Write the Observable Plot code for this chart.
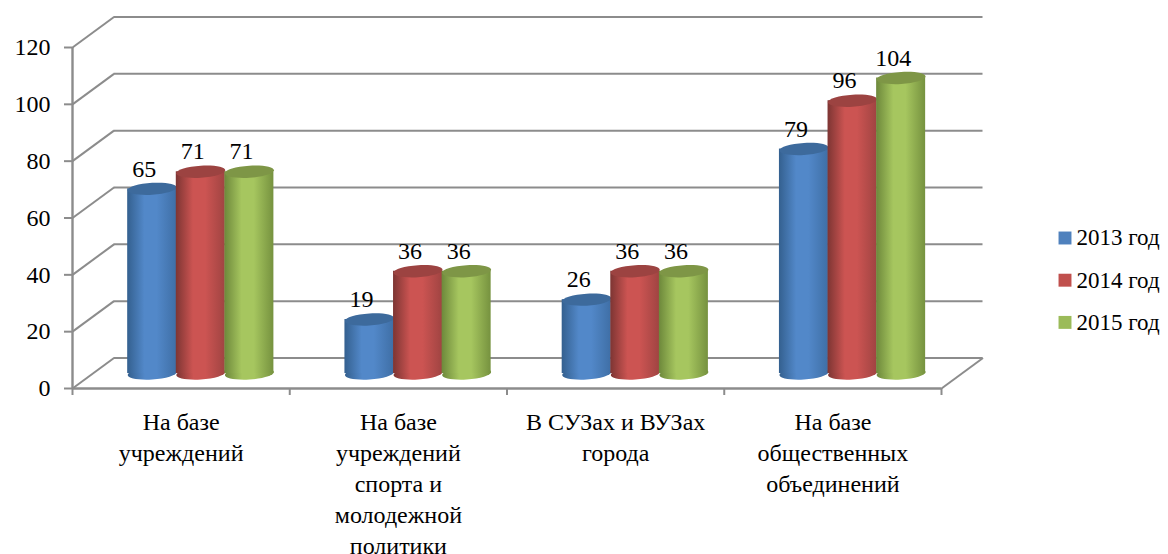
<!DOCTYPE html>
<html><head><meta charset="utf-8">
<script src="https://cdn.jsdelivr.net/npm/d3@7"></script>
<script src="https://cdn.jsdelivr.net/npm/@observablehq/plot@0.6"></script>
<style>html,body{margin:0;padding:0;background:#fff}svg{display:block;overflow:visible}</style>
</head><body><div id="chart"></div>
<script>
const categories = ["На базе\nучреждений","На базе\nучреждений\nспорта и\nмолодежной\nполитики","В СУЗах и ВУЗах\nгорода","На базе\nобщественных\nобъединений"];
const seriesNames = ["2013 год","2014 год","2015 год"];
const values2013 = [65,19,26,79];
const values2014 = [71,36,36,96];
const values2015 = [71,36,36,104];
const yTicks = [0,20,40,60,80,100,120];
const xTicks = [0,1,2,3,4];

const seriesValues = [values2013,values2014,values2015];
const swatch = ["#4f81bd","#c0504d","#9bbb59"];
const caps = ["#3d6a9c","#9c4341","#7e9646"];
const stops = [
  ["#34608f","#5288c9","#5288c9","#3f6fa6"],
  ["#7d3533","#cc5452","#cc5452","#a04442"],
  ["#6d883b","#a6c65f","#a6c65f","#76923f"]];
const grey = "#8c8c8c";

const depthX = 41.5/217.25, depthY = 30.5/2.842;      // wall depth, in data units
const baseY = depthY/2 - 0.1;
const barW = 49/217.25, step = 48.6/217.25, shift = depthX/2 - 0.005;

const rows = seriesValues.flatMap((vals,s)=>vals.map((v,i)=>({s,i,v,
  cx:i+0.5+shift+(s-1)*step})));

const ell = {draw(c){
  const rx=24.5, ry=6, t=-0.06, k=0.5523;
  const P=(x,y)=>[x,y+t*x];
  c.moveTo(...P(-rx,0));
  c.bezierCurveTo(...P(-rx,-k*ry),...P(-k*rx,-ry),...P(0,-ry));
  c.bezierCurveTo(...P(k*rx,-ry),...P(rx,-k*ry),...P(rx,0));
  c.bezierCurveTo(...P(rx,k*ry),...P(k*rx,ry),...P(0,ry));
  c.bezierCurveTo(...P(-k*rx,ry),...P(-rx,k*ry),...P(-rx,0));
  c.closePath();
}};

const FS = 24;
const marks = [
  // back wall gridlines
  Plot.ruleY(yTicks,{y:d=>d,x1:0,x2:4,dx:41.5,dy:-30.5,stroke:grey,strokeWidth:2}),
  // side wall diagonals
  Plot.link(yTicks,{x1:0,y1:d=>d,x2:depthX,y2:d=>d+depthY,stroke:grey,strokeWidth:2}),
  Plot.link([0],{x1:4,y1:0,x2:4+depthX,y2:depthY,stroke:grey,strokeWidth:2}),
  // axes lines
  Plot.ruleX([0],{y1:0,y2:120,stroke:grey,strokeWidth:2.4}),
  Plot.ruleY([0],{x1:0,x2:4,stroke:grey,strokeWidth:2.4}),
  Plot.axisY(yTicks,{anchor:"left",tickSize:8,tickPadding:14,stroke:grey,fill:"#000",strokeWidth:2,fontSize:FS,label:null}),
  Plot.axisX(xTicks,{anchor:"bottom",tickSize:7,tickFormat:()=>"",stroke:grey,strokeWidth:2,label:null})
];
seriesValues.forEach((vals,s)=>{
  const d = rows.filter(r=>r.s===s);
  marks.push(
    Plot.dot(d,{x:"cx",y:()=>baseY,symbol:ell,r:10,fill:`url(#grad${s})`,stroke:"none"}),
    Plot.rect(d,{x1:r=>r.cx-barW/2,x2:r=>r.cx+barW/2,y1:()=>baseY,y2:r=>r.v+baseY,fill:`url(#grad${s})`,inset:0}),
    Plot.dot(d,{x:"cx",y:r=>r.v+baseY,symbol:ell,r:10,fill:caps[s],stroke:"none"})
  );
});
marks.push(
  Plot.text(rows,{x:"cx",y:r=>r.v+baseY,text:r=>String(r.v),dx:-8,dy:-20,fontSize:FS,fill:"#000"}),
  Plot.text(categories,{x:(d,i)=>i+0.5,y:()=>0,text:d=>d,dy:20,lineAnchor:"top",lineHeight:1.29,fontSize:FS,fill:"#000"}),
  Plot.dot(swatch,{frameAnchor:"top-left",dx:1064.5-72,dy:(d,i)=>0,symbol:"square",r:7.3,fill:d=>d})
);
// legend (one mark each: dx/dy are constants per mark)
marks.pop();
seriesNames.forEach((n,i)=>{
  const dy = 190.5+42.2*i;
  marks.push(
    Plot.dot([swatch[i]],{frameAnchor:"top-left",dx:1064.5-72,dy,symbol:"square",r:7.3,fill:d=>d,stroke:"none"}),
    Plot.text([n],{frameAnchor:"top-left",dx:1076-72,dy,text:d=>d,textAnchor:"start",lineAnchor:"middle",fontSize:FS-1,fill:"#000"})
  );
});

const svg = Plot.plot({
  width:1168,height:554,
  marginLeft:72,marginRight:227,marginTop:47,marginBottom:166,
  style:{fontFamily:"'Liberation Serif',serif",background:"#fff",overflow:"visible"},
  x:{domain:[0,4],axis:null},
  y:{domain:[0,120],axis:null},
  color:{type:"identity"},
  marks
});
const defs = d3.select(svg).append("defs");
stops.forEach((st,s)=>{
  const g = defs.append("linearGradient").attr("id",`grad${s}`).attr("x1",0).attr("x2",1).attr("y1",0).attr("y2",0);
  [0,0.35,0.6,1].forEach((o,j)=>g.append("stop").attr("offset",o).attr("stop-color",st[j]));
});
document.getElementById("chart").appendChild(svg);
</script></body></html>
